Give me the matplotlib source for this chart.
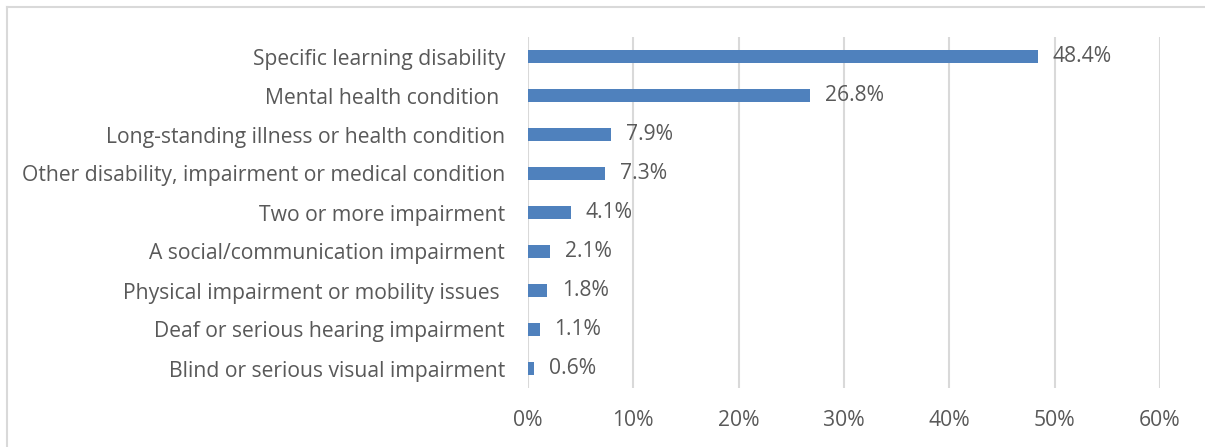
import matplotlib
matplotlib.use("Agg")
import matplotlib.pyplot as plt
from matplotlib.lines import Line2D

categories = [
    "Specific learning disability",
    "Mental health condition ",
    "Long-standing illness or health condition",
    "Other disability, impairment or medical condition",
    "Two or more impairment",
    "A social/communication impairment",
    "Physical impairment or mobility issues ",
    "Deaf or serious hearing impairment",
    "Blind or serious visual impairment",
]
values = [48.4, 26.8, 7.9, 7.3, 4.1, 2.1, 1.8, 1.1, 0.6]
xticks = [0, 10, 20, 30, 40, 50, 60]
xtick_labels = ["0%", "10%", "20%", "30%", "40%", "50%", "60%"]

plt.rcParams['font.family'] = ['Open Sans', 'DejaVu Sans']
text_color = "#595959"
bar_color = "#4F81BD"
fs = 15.2

fig = plt.figure(figsize=(12.05, 4.47), dpi=100)
ax = fig.add_axes([528/1205, 1-388/447, (1160-528)/1205, (388-37)/447])

n = len(categories)
ypos = list(range(n))
ax.barh(ypos, values, height=0.31, color=bar_color, zorder=3)
for y, v in zip(ypos, values):
    ax.text(v + 1.4, y, f"{v:.1f}%", va="center", ha="left", fontsize=fs, color=text_color)

ax.set_yticks(ypos)
ax.set_yticklabels(categories, fontsize=fs, color=text_color)
ax.set_ylim(n - 0.5, -0.5)
ax.set_xlim(0, 60)
ax.set_xticks(xticks)
ax.set_xticklabels(xtick_labels, fontsize=fs, color=text_color)
ax.tick_params(axis="both", length=0)
ax.tick_params(axis="y", pad=16.5)
ax.tick_params(axis="x", pad=16)
ax.grid(axis="x", color="#d9d9d9", linewidth=1.5, zorder=0)
for s in ax.spines.values():
    s.set_visible(False)

fig.add_artist(Line2D([7/1205, 7/1205], [0, 1-7/447], transform=fig.transFigure, color="#d9d9d9", linewidth=1.5))
fig.add_artist(Line2D([7/1205, 1], [1-7/447, 1-7/447], transform=fig.transFigure, color="#d9d9d9", linewidth=1.5))

fig.savefig("out.png", dpi=100)
